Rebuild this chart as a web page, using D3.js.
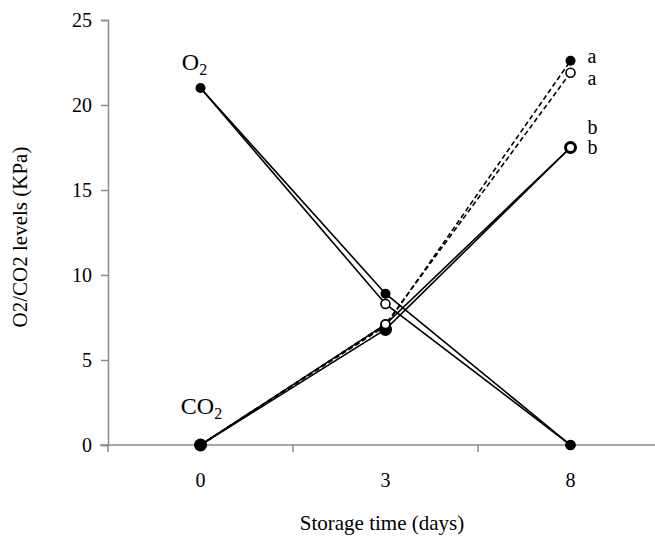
<!DOCTYPE html>
<html>
<head>
<meta charset="utf-8">
<script src="https://cdn.jsdelivr.net/npm/d3@7"></script>
<style>
  html, body { margin: 0; padding: 0; background: #fff; }
  svg { display: block; }
  text { font-family: "Liberation Serif", "DejaVu Serif", serif; fill: #000; }
</style>
</head>
<body>
<svg id="chart" width="655" height="540"></svg>
<script>
// ---- data ----
const days = ["0", "3", "8"];
const yTicks = [0, 5, 10, 15, 20, 25];
const o2Open    = [21, 8.3, 0];
const o2Filled  = [21, 8.9, 0];
const co2aOpen   = [0, 7.1, 21.9];
const co2aFilled = [0, 7.0, 22.6];
const co2bFilled = [0, 6.8, 17.5];
const co2bOpen   = [0, 7.1, 17.5];
const co2Letters = ["a", "a", "b", "b"];
const xTitle = "Storage time (days)";
const yTitle = "O2/CO2 levels (KPa)";

// ---- layout ----
const W = 655, H = 540;
const m = { left: 108, top: 20, right: -8, bottom: 95 };
const svg = d3.select("#chart");

const x = d3.scaleBand().domain(days).range([m.left, W - m.right]).padding(0);
const y = d3.scaleLinear().domain([0, 25]).range([H - m.bottom, m.top]);
const cx = d => x(d) + x.bandwidth() / 2;
const axisColor = "#8a8a8a";

// y axis
const gy = svg.append("g").attr("transform", `translate(${m.left},0)`)
  .call(d3.axisLeft(y).tickValues(yTicks).tickSize(7).tickPadding(9));
gy.select(".domain").attr("stroke", axisColor).attr("stroke-width", 1.5);
gy.selectAll(".tick line").attr("stroke", axisColor).attr("stroke-width", 1.5);
gy.selectAll(".tick text").style("font-size", "20px").style("font-family", "Liberation Serif");

// x axis (boundary ticks like a category axis)
const xAxisY = y(0);
const gx = svg.append("g").attr("transform", `translate(0,${xAxisY})`);
gx.append("line").attr("x1", m.left - 8).attr("x2", W).attr("y1", 0).attr("y2", 0)
  .attr("stroke", axisColor).attr("stroke-width", 1.5);
const bounds = days.map(d => x(d)).concat([x(days[days.length - 1]) + x.bandwidth()]);
gx.selectAll("line.tk").data(bounds).enter().append("line").attr("class", "tk")
  .attr("x1", d => d).attr("x2", d => d).attr("y1", 0).attr("y2", 7)
  .attr("stroke", axisColor).attr("stroke-width", 1.5);
gx.selectAll("text.lbl").data(days).enter().append("text").attr("class", "lbl")
  .attr("x", d => cx(d)).attr("y", 42).attr("text-anchor", "middle")
  .style("font-size", "20px").text(d => d);

// titles
svg.append("text").attr("x", 382).attr("y", 530).attr("text-anchor", "middle")
  .style("font-size", "21px").text(xTitle);
svg.append("text").attr("transform", `translate(27,237) rotate(-90)`)
  .attr("text-anchor", "middle").style("font-size", "21px").text(yTitle);

// ---- series ----
const series = [
  { v: o2Open,     dash: null,  open: true,  r: 4.5 },
  { v: o2Filled,   dash: null,  open: false, r: 5 },
  { v: co2aOpen,   dash: "5,3", open: true,  r: 4.5, letter: co2Letters[1], ldy: 7 },
  { v: co2aFilled, dash: "5,3", open: false, r: 5,   letter: co2Letters[0], ldy: -3 },
  { v: co2bFilled, dash: null,  open: false, r: 6.5, letter: co2Letters[2], ldy: -19 },
  { v: co2bOpen,   dash: null,  open: true,  r: 4.3, letter: co2Letters[3], ldy: 1 }
];

const line = d3.line().x((d, i) => cx(days[i])).y(d => y(d));

series.forEach(s => {
  svg.append("path").datum(s.v).attr("d", line)
    .attr("fill", "none").attr("stroke", "#000").attr("stroke-width", 1.6)
    .attr("stroke-dasharray", s.dash);
});

series.forEach(s => {
  // open markers share the common start point with the filled ones
  const pts = s.v.map((v, i) => ({ v, i })).filter(p => !s.open || p.i > 0);
  svg.selectAll(null).data(pts).enter().append("circle")
    .attr("cx", p => cx(days[p.i])).attr("cy", p => y(p.v)).attr("r", s.r)
    .attr("fill", s.open ? "#fff" : "#000")
    .attr("stroke", "#000").attr("stroke-width", s.open ? 1.6 : 0);
});

// letters at day 8
series.filter(s => s.letter).forEach(s => {
  const last = s.v.length - 1;
  svg.append("text").attr("x", cx(days[last]) + 17).attr("y", y(s.v[last]) + 5 + s.ldy)
    .style("font-size", "20px").text(s.letter);
});

// gas labels
svg.append("text").attr("x", cx(days[0]) - 6).attr("y", y(o2Filled[0]) - 18)
  .attr("text-anchor", "middle").style("font-size", "24px")
  .html('O<tspan dy="5" font-size="16">2</tspan>');
svg.append("text").attr("x", cx(days[0]) + 1).attr("y", y(co2bFilled[0]) - 31)
  .attr("text-anchor", "middle").style("font-size", "24px")
  .html('CO<tspan dy="5" font-size="16">2</tspan>');
</script>
</body>
</html>
